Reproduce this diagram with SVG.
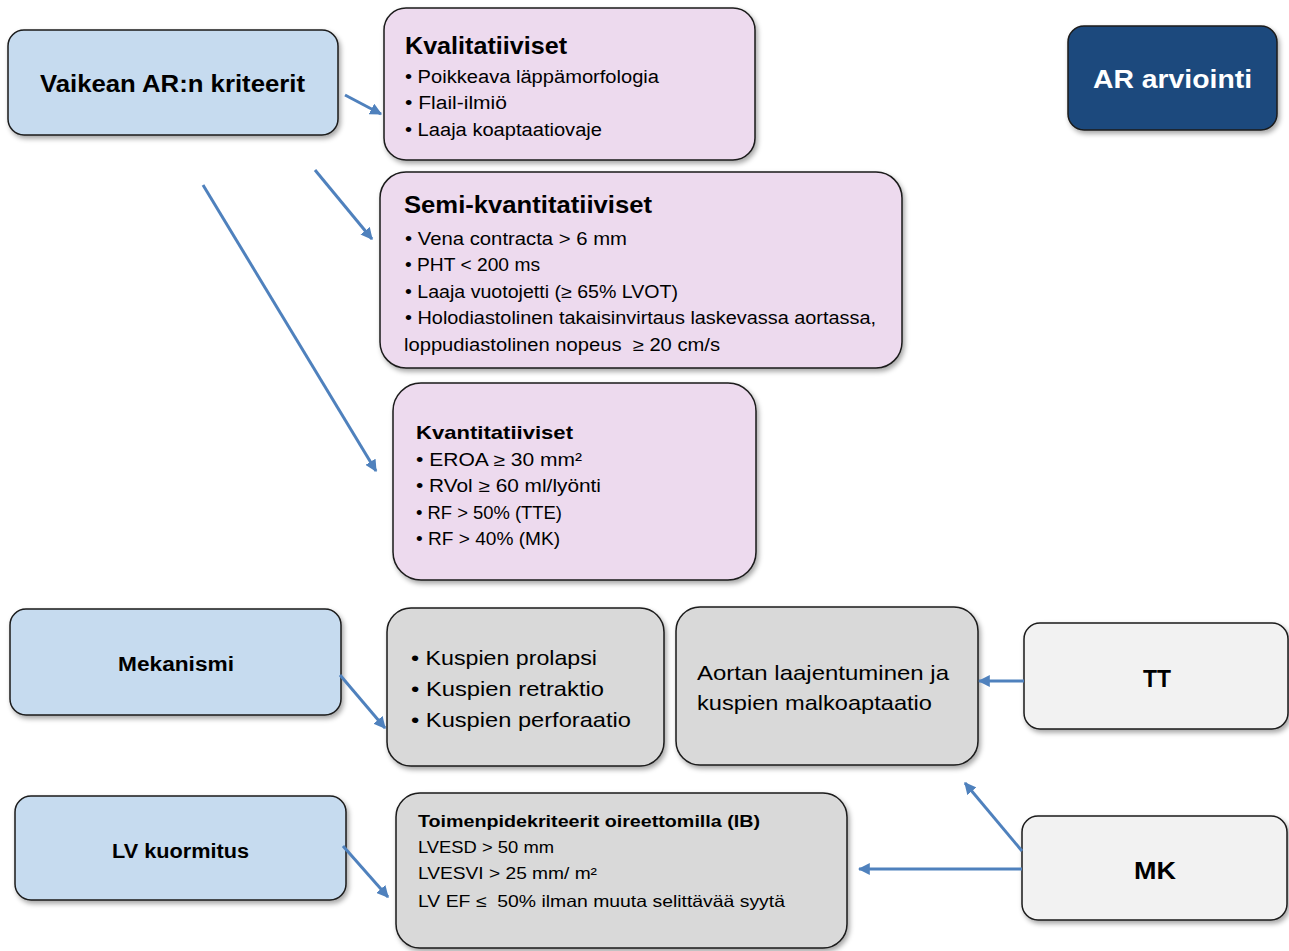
<svg xmlns="http://www.w3.org/2000/svg" width="1289" height="951" viewBox="0 0 1289 951">
<defs>
<filter id="sh" x="-10%" y="-10%" width="130%" height="130%">
<feDropShadow dx="2" dy="3" stdDeviation="2.5" flood-color="#000" flood-opacity="0.35"/>
</filter>
<marker id="ah" viewBox="0 0 10 10" refX="9" refY="5" markerWidth="4" markerHeight="4" orient="auto-start-reverse" markerUnits="strokeWidth">
<path d="M0,0 L10,5 L0,10 z" fill="#4f81bd"/>
</marker>
<style>
.box{stroke:#1a1a1a;stroke-width:1.5;filter:url(#sh)}
.blue{fill:#c6dbef}
.pink{fill:#eddaee}
.gray{fill:#d9d9d9}
.light{fill:#f2f2f2}
.dark{fill:#1f497d}
text{font-family:"Liberation Sans",Arial,sans-serif;fill:#000;white-space:pre}
.b{font-weight:bold}
.con line{stroke:#4f81bd;stroke-width:3;marker-end:url(#ah)}
</style>
</defs>
<rect width="1289" height="951" fill="#fff"/>

<g id="n-vaikean">
<rect class="box blue" x="8" y="30" width="330" height="105" rx="16"/>
<text class="b" x="40" y="92" font-size="24" textLength="265" lengthAdjust="spacingAndGlyphs">Vaikean AR:n kriteerit</text>
</g>

<g id="n-kvalitatiiviset">
<rect class="box pink" x="384" y="8" width="371" height="152" rx="22"/>
<text class="b" x="405" y="54" font-size="24" textLength="162" lengthAdjust="spacingAndGlyphs">Kvalitatiiviset</text>
<text x="405" y="83" font-size="18" textLength="254" lengthAdjust="spacingAndGlyphs">• Poikkeava läppämorfologia</text>
<text x="405" y="109" font-size="18" textLength="102" lengthAdjust="spacingAndGlyphs">• Flail-ilmiö</text>
<text x="405" y="136" font-size="18" textLength="197" lengthAdjust="spacingAndGlyphs">• Laaja koaptaatiovaje</text>
</g>

<g id="n-semi">
<rect class="box pink" x="380" y="172" width="522" height="196" rx="26"/>
<text class="b" x="404" y="213" font-size="24" textLength="248" lengthAdjust="spacingAndGlyphs">Semi-kvantitatiiviset</text>
<text x="405" y="245" font-size="17.5" textLength="222" lengthAdjust="spacingAndGlyphs">• Vena contracta &gt; 6 mm</text>
<text x="405" y="271" font-size="17.5" textLength="135" lengthAdjust="spacingAndGlyphs">• PHT &lt; 200 ms</text>
<text x="405" y="298" font-size="17.5" textLength="273" lengthAdjust="spacingAndGlyphs">• Laaja vuotojetti (≥ 65% LVOT)</text>
<text x="405" y="324" font-size="17.5" textLength="471" lengthAdjust="spacingAndGlyphs">• Holodiastolinen takaisinvirtaus laskevassa aortassa,</text>
<text x="404" y="351" font-size="17.5" textLength="316" lengthAdjust="spacingAndGlyphs">loppudiastolinen nopeus  ≥ 20 cm/s</text>
</g>

<g id="n-kvantitatiiviset">
<rect class="box pink" x="393" y="383" width="363" height="197" rx="28"/>
<text class="b" x="416" y="439" font-size="19" textLength="157" lengthAdjust="spacingAndGlyphs">Kvantitatiiviset</text>
<text x="416" y="466" font-size="17.5" textLength="166" lengthAdjust="spacingAndGlyphs">• EROA ≥ 30 mm²</text>
<text x="416" y="492" font-size="17.5" textLength="185" lengthAdjust="spacingAndGlyphs">• RVol ≥ 60 ml/lyönti</text>
<text x="416" y="519" font-size="17.5" textLength="146" lengthAdjust="spacingAndGlyphs">• RF &gt; 50% (TTE)</text>
<text x="416" y="545" font-size="17.5" textLength="144" lengthAdjust="spacingAndGlyphs">• RF &gt; 40% (MK)</text>
</g>

<g id="n-ar">
<rect class="box dark" x="1068" y="26" width="209" height="104" rx="16"/>
<text class="b" x="1093" y="88" font-size="25" textLength="159" lengthAdjust="spacingAndGlyphs" style="fill:#fff">AR arviointi</text>
</g>

<g id="n-mekanismi">
<rect class="box blue" x="10" y="609" width="331" height="106" rx="16"/>
<text class="b" x="118" y="671" font-size="19.5" textLength="116" lengthAdjust="spacingAndGlyphs">Mekanismi</text>
</g>

<g id="n-kuspien">
<rect class="box gray" x="387" y="608" width="277" height="158" rx="24"/>
<text x="411" y="665" font-size="21" textLength="186" lengthAdjust="spacingAndGlyphs">• Kuspien prolapsi</text>
<text x="411" y="696" font-size="21" textLength="193" lengthAdjust="spacingAndGlyphs">• Kuspien retraktio</text>
<text x="411" y="727" font-size="21" textLength="220" lengthAdjust="spacingAndGlyphs">• Kuspien perforaatio</text>
</g>

<g id="n-aortan">
<rect class="box gray" x="676" y="607" width="302" height="158" rx="24"/>
<text x="697" y="680" font-size="21" textLength="252" lengthAdjust="spacingAndGlyphs">Aortan laajentuminen ja</text>
<text x="697" y="710" font-size="21" textLength="235" lengthAdjust="spacingAndGlyphs">kuspien malkoaptaatio</text>
</g>

<g id="n-tt">
<rect class="box light" x="1024" y="623" width="264" height="106" rx="16"/>
<text class="b" x="1143" y="687" font-size="24" textLength="28" lengthAdjust="spacingAndGlyphs">TT</text>
</g>

<g id="n-lv">
<rect class="box blue" x="15" y="796" width="331" height="104" rx="16"/>
<text class="b" x="112" y="858" font-size="19.5" textLength="137" lengthAdjust="spacingAndGlyphs">LV kuormitus</text>
</g>

<g id="n-toimenpide">
<rect class="box gray" x="396" y="793" width="451" height="155" rx="24"/>
<text class="b" x="418" y="827" font-size="16" textLength="342" lengthAdjust="spacingAndGlyphs">Toimenpidekriteerit oireettomilla (IB)</text>
<text x="418" y="853" font-size="16.5" textLength="136" lengthAdjust="spacingAndGlyphs">LVESD &gt; 50 mm</text>
<text x="418" y="879" font-size="16.5" textLength="179" lengthAdjust="spacingAndGlyphs">LVESVI &gt; 25 mm/ m²</text>
<text x="418" y="907" font-size="16.5" textLength="367" lengthAdjust="spacingAndGlyphs">LV EF ≤  50% ilman muuta selittävää syytä</text>
</g>

<g id="n-mk">
<rect class="box light" x="1022" y="816" width="265" height="104" rx="16"/>
<text class="b" x="1134" y="879" font-size="24" textLength="42" lengthAdjust="spacingAndGlyphs">MK</text>
</g>

<g id="connectors" class="con">
<line x1="345" y1="95" x2="381" y2="114"/>
<line x1="315" y1="170" x2="372" y2="239"/>
<line x1="203" y1="185" x2="376" y2="471"/>
<line x1="340" y1="675" x2="385" y2="728"/>
<line x1="1024" y1="681" x2="979" y2="681"/>
<line x1="1022" y1="851" x2="965" y2="783"/>
<line x1="1022" y1="869" x2="859" y2="869"/>
<line x1="343" y1="846" x2="388" y2="897"/>
</g>
</svg>
